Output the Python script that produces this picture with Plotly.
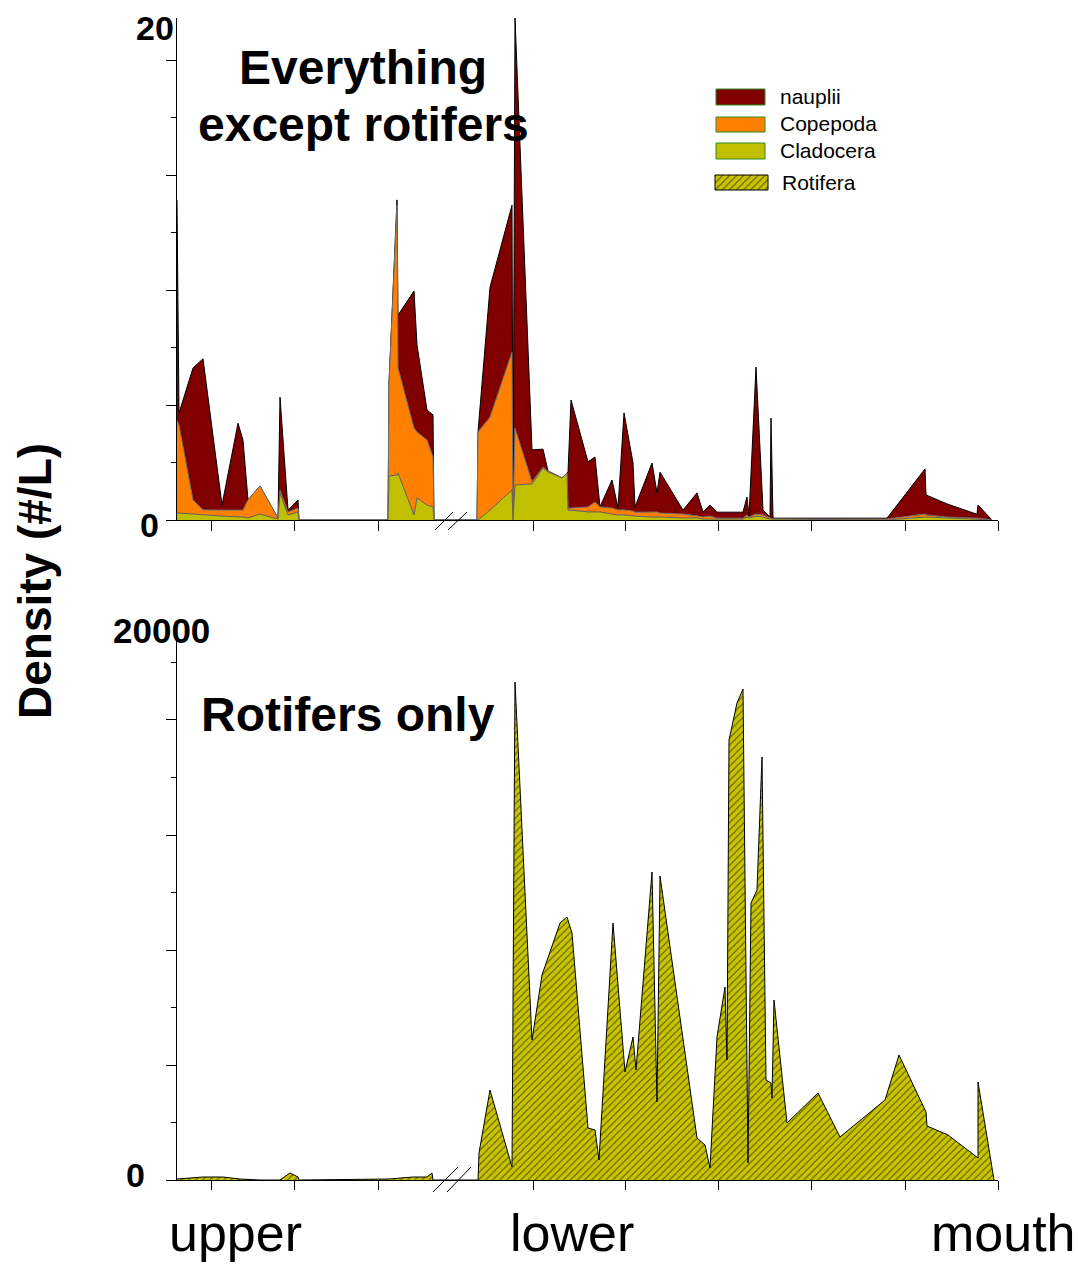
import plotly.graph_objects as go

W, H = 1078, 1264

# ---------------- data ----------------
# station positions along the river (schematic distance units, upper -> mouth)
pos_top = [0, 2, 16, 26, 45, 61, 66, 71, 83, 101, 103, 111, 121, 122, 211,
           212, 220, 221, 237, 240, 250, 256, 257, 300,
           301, 313, 335, 336, 338, 355, 366, 371, 385, 390, 391, 394, 411, 418,
           423, 435, 441, 447, 456, 458, 475, 480, 483, 506, 520, 526, 533, 540,
           566, 570, 572, 579, 586, 593, 594, 596, 710, 748, 749, 770, 800, 801, 815]
cladocera = [0.30, 0.30, 0.26, 0.22, 0.17, 0.13, 0.13, 0.09, 0.26, 0.04, 1.17, 0.22, 0.35, 0, 0,
             1.91, 1.96, 2.04, 0.22, 0.96, 0.65, 0.57, 0, 0,
             0, 0.43, 1.30, 0, 1.52, 1.57, 2.26, 2.09, 1.83, 2.04, 0.43, 0.43, 0.35, 0.35,
             0.35, 0.26, 0.22, 0.22, 0.17, 0.17, 0.13, 0.13, 0.13, 0.09, 0.09, 0.04, 0.04, 0.04,
             0.04, 0.13, 0.09, 0.17, 0.13, 0.04, 0.04, 0.04, 0, 0.13, 0.13, 0.09, 0.04, 0.04, 0]
copepoda = [4.04, 3.83, 0.61, 0.22, 0.26, 0.30, 0.30, 0.78, 1.22, 0.04, 0.13, 0.13, 0.17, 0, 0,
            3.96, 11.74, 4.57, 3.78, 2.87, 2.83, 2.17, 0, 0,
            3.83, 4.04, 6.00, 0, 2.48, 0.09, 0.04, 0.04, 0, 0, 0.09, 0.09, 0.22, 0.43,
            0.22, 0.26, 0.22, 0.22, 0.22, 0.17, 0.22, 0.22, 0.17, 0.17, 0.09, 0.09, 0.13, 0.04,
            0.04, 0.09, 0.04, 0.09, 0.09, 0.04, 0.04, 0, 0.04, 0.13, 0.09, 0.04, 0.04, 0.04, 0]
nauplii = [9.57, 0.52, 5.74, 6.57, 0.22, 3.78, 3.04, 0, 0, 0, 4.04, 0.09, 0.35, 0, 0,
           0.09, 0.22, 2.30, 5.96, 3.78, 1.30, 1.83, 0, 0,
           0, 5.65, 6.39, 0, 17.83, 1.39, 0.78, 0, 0, 0, 1.57, 4.70, 1.96, 1.96,
           0, 1.22, 0.09, 4.22, 2.09, 0.22, 2.13, 0.83, 1.78, 0.17, 1.00, 0.22, 0.48, 0.26,
           0.26, 0.78, 0.04, 6.39, 0.22, 0.04, 4.35, 0.04, 0.04, 1.96, 0.87, 0.57, 0.17, 0.57, 0]

pos_rot = [0, 26, 46, 63, 83, 103, 113, 121, 122, 212, 236, 250, 255, 256,
           301, 302, 313, 335, 338, 355, 365, 383, 390, 395, 411, 418, 422, 436, 448,
           456, 459, 475, 480, 483, 520, 528, 533, 540, 548, 550, 552, 560, 566, 571,
           574, 580, 585, 589, 594, 595, 597, 610, 641, 663, 708, 722, 749, 750, 771,
           801, 801, 816, 817]
rotifera = [43, 130, 130, 43, 0, 0, 304, 130, 0, 43, 130, 130, 304, 0,
            0, 1174, 3913, 565, 21652, 6087, 8913, 11174, 11435, 10739, 2261, 2174, 870, 11174, 4696,
            6217, 4783, 13391, 3391, 13217, 1826, 1522, 522, 6217, 8391, 5217, 19130, 20739, 21348, 739,
            12043, 12609, 18391, 4348, 4217, 3565, 7826, 2478, 3783, 1870, 3478, 5435, 2957, 2348, 1957,
            957, 4261, 348, 0]

x_ticks = [34, 117, 201, 356, 448, 541, 634, 728, 821]
region_labels = ["upper", "lower", "mouth"]

assert len(pos_top) == len(cladocera) == len(copepoda) == len(nauplii)
assert len(pos_rot) == len(rotifera)

# ---------------- styles ----------------
C_NAUP = "#800000"
C_COPE = "#FF8000"
C_CLAD = "#C0C000"
C_ROT = "#C8C400"
FONT = "Liberation Sans, Arial, sans-serif"

def px(x):
    return x / W

def py(y):
    return 1 - y / H

# stacked cumulative totals
stk_clad = cladocera
stk_cope = [a + b for a, b in zip(cladocera, copepoda)]
stk_all = [a + b + c for a, b, c in zip(cladocera, copepoda, nauplii)]

fig = go.Figure()
fig.add_trace(go.Scatter(x=pos_top, y=stk_all, mode="lines", fill="tozeroy",
                         fillcolor=C_NAUP, line=dict(color="black", width=1),
                         name="nauplii", xaxis="x", yaxis="y"))
fig.add_trace(go.Scatter(x=pos_top, y=stk_cope, mode="lines", fill="tozeroy",
                         fillcolor=C_COPE, line=dict(color="#707070", width=1),
                         name="Copepoda", xaxis="x", yaxis="y"))
fig.add_trace(go.Scatter(x=pos_top, y=stk_clad, mode="lines", fill="tozeroy",
                         fillcolor=C_CLAD, line=dict(color="#606060", width=1),
                         name="Cladocera", xaxis="x", yaxis="y"))

hatch = dict(shape="/", bgcolor=C_ROT, fgcolor="black", size=5, solidity=0.22)
fig.add_trace(go.Scatter(x=pos_rot, y=rotifera, mode="lines", fill="tozeroy",
                         fillpattern=hatch, fillcolor=C_ROT,
                         line=dict(color="black", width=1),
                         name="Rotifera", xaxis="x2", yaxis="y2"))

# legend swatch for the hatched series (overlay pixel axes)
fig.add_trace(go.Scatter(x=[715, 768, 768, 715, 715], y=[175, 175, 190, 190, 175],
                         mode="lines", fill="toself", fillpattern=hatch, fillcolor=C_ROT,
                         line=dict(color="black", width=1), xaxis="x3", yaxis="y3",
                         hoverinfo="skip"))

xdom = [px(177), px(998)]
axis_common = dict(showline=True, linecolor="black", linewidth=1.3, showgrid=False,
                   zeroline=False, ticks="outside", tickcolor="black", tickwidth=1.3,
                   showticklabels=False)

fig.update_layout(
    width=W, height=H, margin=dict(l=0, r=0, t=0, b=0),
    paper_bgcolor="white", plot_bgcolor="rgba(0,0,0,0)", showlegend=False,
    xaxis=dict(domain=xdom, range=[0, 821], anchor="y", tickvals=x_ticks, ticklen=10,
               **axis_common),
    yaxis=dict(domain=[py(520), py(18)], range=[0, 21.83], anchor="x",
               tickvals=[0, 5, 10, 15, 20], ticklen=10,
               minor=dict(tickvals=[2.5, 7.5, 12.5, 17.5], ticks="outside", ticklen=5,
                          tickcolor="black", tickwidth=1.3),
               **axis_common),
    xaxis2=dict(domain=xdom, range=[0, 821], anchor="y2", tickvals=x_ticks, ticklen=9,
                **axis_common),
    yaxis2=dict(domain=[py(1180), py(640)], range=[0, 23478], anchor="x2",
                tickvals=[0, 5000, 10000, 15000, 20000], ticklen=10,
                minor=dict(tickvals=[2500, 7500, 12500, 17500, 22500], ticks="outside",
                           ticklen=5, tickcolor="black", tickwidth=1.3),
                **axis_common),
    xaxis3=dict(domain=[0, 1], range=[0, W], visible=False, anchor="y3", fixedrange=True),
    yaxis3=dict(domain=[0, 1], range=[H, 0], visible=False, anchor="x3", fixedrange=True),
)

shapes = []
# axis break marks
for (x0, y0, x1, y1) in [(435, 530, 453, 512), (448, 530, 467, 512),
                         (433, 1192, 458, 1167), (447, 1192, 471, 1167)]:
    shapes.append(dict(type="line", xref="paper", yref="paper",
                       x0=px(x0), y0=py(y0), x1=px(x1), y1=py(y1),
                       line=dict(color="black", width=1)))
# legend swatches
for (y0, y1, col) in [(89, 105, C_NAUP), (117, 132, C_COPE), (143, 159, C_CLAD)]:
    shapes.append(dict(type="rect", xref="paper", yref="paper",
                       x0=px(716), x1=px(765), y0=py(y1), y1=py(y0),
                       fillcolor=col, line=dict(color="#2E8B22", width=1)))
fig.update_layout(shapes=shapes)

ann = []
def text(t, x, y, size, bold=False, xanchor="center", yanchor="middle", angle=0):
    ann.append(dict(text=f"<b>{t}</b>" if bold else t, xref="paper", yref="paper",
                    x=px(x), y=py(y), xanchor=xanchor, yanchor=yanchor, showarrow=False,
                    textangle=angle, font=dict(family=FONT, size=size, color="black")))

# tick labels
text("20", 176, 28, 34, bold=True, xanchor="right")
text("0", 161, 525, 34, bold=True, xanchor="right")
text("20000", 161, 630, 35, bold=True)
text("0", 147, 1175, 34, bold=True, xanchor="right")
# panel titles
text("Everything", 363, 68, 48, bold=True)
text("except rotifers", 363, 125, 48, bold=True)
text("Rotifers only", 199, 714, 48, bold=True, xanchor="left")
# y title
text("Density (#/L)", 35, 581, 46, bold=True, angle=-90)
# region labels (kept fully inside the page)
for lab, xc in zip(region_labels, [235, 572, 1003]):
    text(lab, xc, 1233, 52)
# legend texts
for lab, yc, xl in [("nauplii", 97, 778), ("Copepoda", 124, 778), ("Cladocera", 151, 778),
                    ("Rotifera", 182, 780)]:
    text(lab, xl, yc, 21, xanchor="left")
fig.update_layout(annotations=ann)

fig.write_html("out.html")
